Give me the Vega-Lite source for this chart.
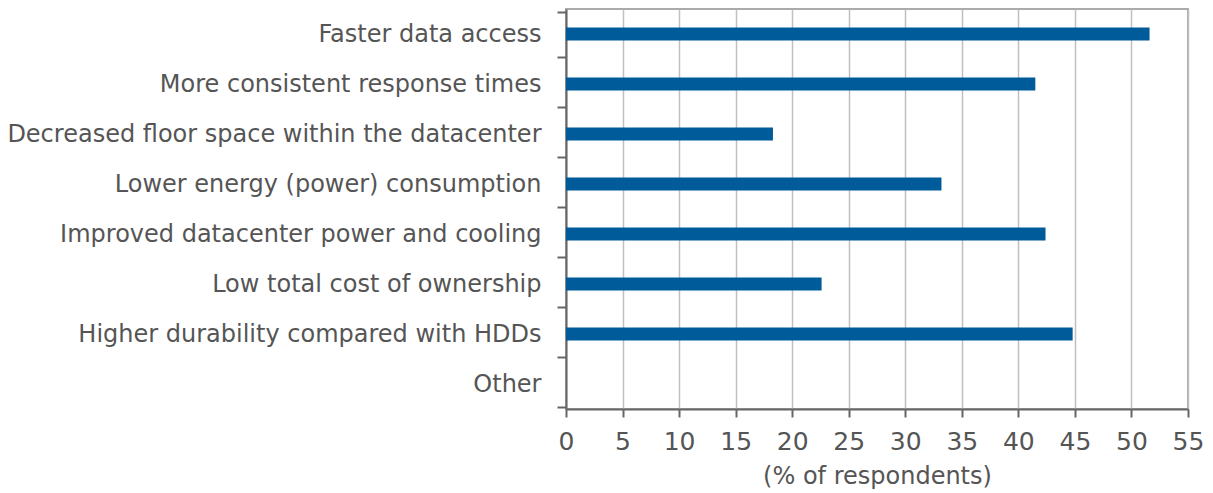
{
  "$schema": "https://vega.github.io/schema/vega-lite/v6.json",
  "autosize": {"type": "none"},
  "padding": {"left": 566, "top": 9, "right": 25, "bottom": 84},
  "width": 622,
  "height": 400,
  "background": "white",
  "config": {
    "font": "DejaVu Sans",
    "view": {"stroke": "#aaaaaa", "strokeWidth": 2}
  },
  "data": {
    "values": [
      {"reason": "Faster data access", "pct": 51.6},
      {"reason": "More consistent response times", "pct": 41.5},
      {"reason": "Decreased floor space within the datacenter", "pct": 18.3},
      {"reason": "Lower energy (power) consumption", "pct": 33.2},
      {"reason": "Improved datacenter power and cooling", "pct": 42.4},
      {"reason": "Low total cost of ownership", "pct": 22.6},
      {"reason": "Higher durability compared with HDDs", "pct": 44.8},
      {"reason": "Other", "pct": 0}
    ]
  },
  "mark": {"type": "bar", "size": 13, "color": "#005b9a"},
  "encoding": {
    "y": {
      "field": "reason",
      "type": "nominal",
      "sort": null,
      "axis": {
        "title": null,
        "tickBand": "extent",
        "tickSize": 9,
        "tickColor": "#666666",
        "tickWidth": 2,
        "domainColor": "#666666",
        "domainWidth": 2,
        "labelFontSize": 24,
        "labelColor": "#555555",
        "labelPadding": 16,
        "labelLimit": 800
      }
    },
    "x": {
      "field": "pct",
      "type": "quantitative",
      "scale": {"domain": [0, 55], "nice": false},
      "axis": {
        "title": "(% of respondents)",
        "titleFontSize": 24,
        "titleFontWeight": "normal",
        "titleColor": "#555555",
        "titlePadding": 10,
        "values": [0, 5, 10, 15, 20, 25, 30, 35, 40, 45, 50, 55],
        "tickSize": 8,
        "tickColor": "#666666",
        "tickWidth": 2,
        "domainColor": "#666666",
        "domainWidth": 2,
        "labelFontSize": 25,
        "labelColor": "#555555",
        "labelPadding": 12,
        "labelFlush": false,
        "labelOverlap": false,
        "gridColor": "#c0c0c0",
        "gridWidth": 1.5
      }
    }
  }
}
